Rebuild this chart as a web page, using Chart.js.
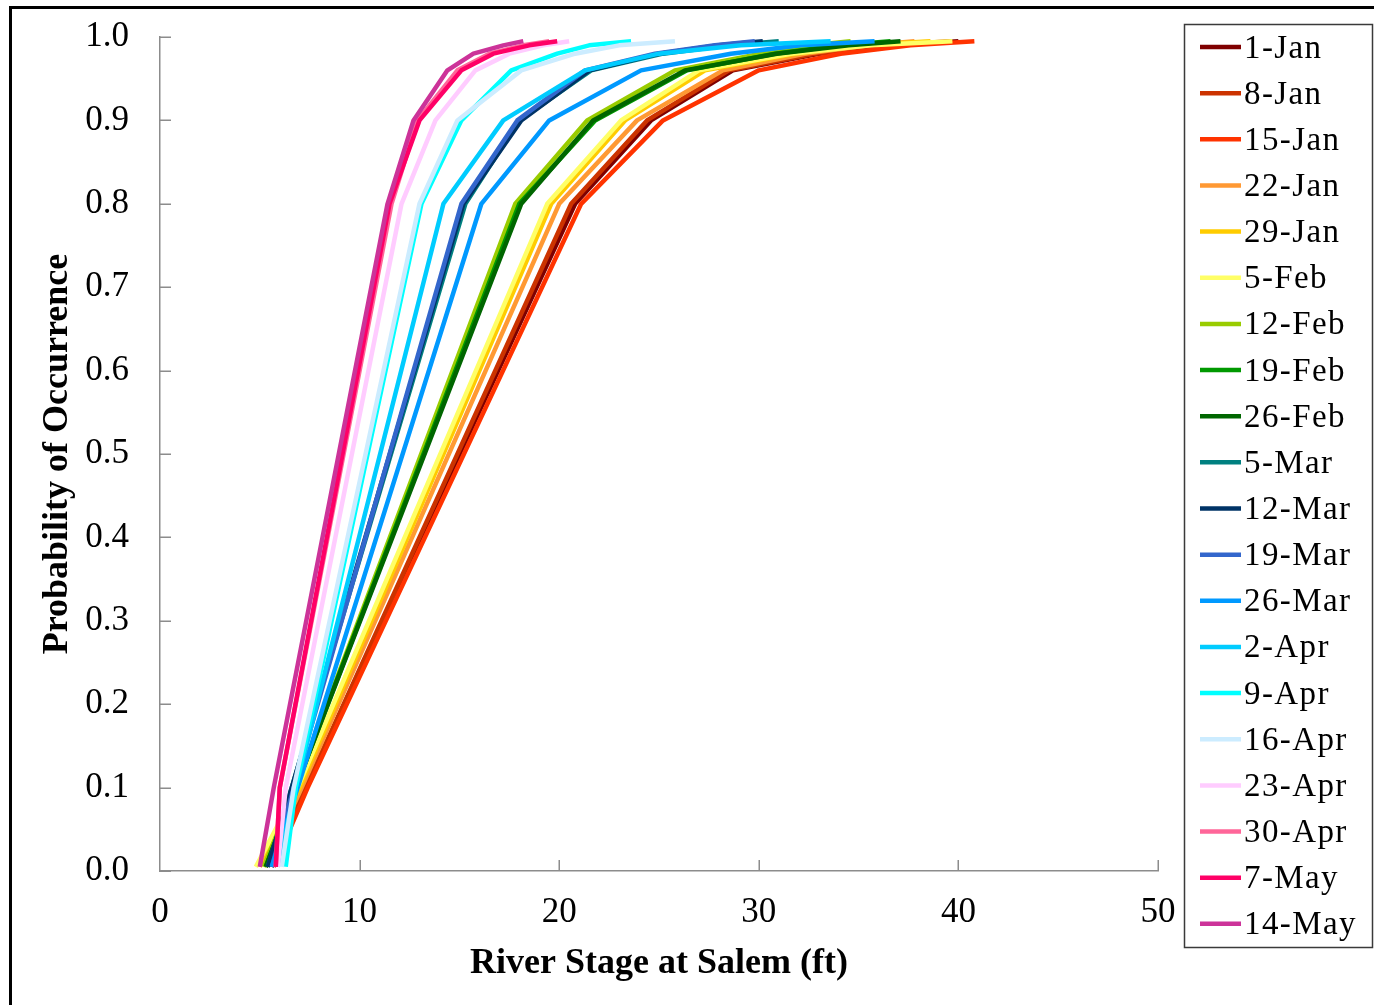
<!DOCTYPE html>
<html><head><meta charset="utf-8">
<script src="https://cdn.jsdelivr.net/npm/chart.js@4/dist/chart.umd.min.js"></script>
<style>
html,body{margin:0;padding:0;background:#fff;overflow:hidden}
#wrap{position:relative;width:1374px;height:1005px;overflow:hidden}
#frame{position:absolute;left:9px;top:6px;width:1400px;height:1100px;border-left:3px solid #000;border-top:3px solid #000;pointer-events:none}
canvas{position:absolute;left:0;top:0}
</style></head><body>
<div id="wrap"><canvas id="c" width="1374" height="1005"></canvas><div id="frame"></div></div>
<script>
// probability levels (y) shared by every series
const probLevels = [0.005, 0.1, 0.8, 0.9, 0.96, 0.98, 0.99, 0.995];
// river stage (ft) at each probability level
const jan01 = [5.6, 7.3, 20.8, 24.6, 28.7, 33.0, 36.8, 40.0];
const jan08 = [5.6, 7.3, 20.6, 24.4, 28.5, 32.8, 36.5, 39.6];
const jan15 = [5.7, 7.4, 21.1, 25.2, 30.0, 34.1, 37.6, 40.8];
const jan22 = [5.3, 7.1, 20.0, 23.9, 28.2, 32.3, 35.5, 37.8];
const jan29 = [5.0, 7.0, 19.6, 23.3, 27.3, 31.8, 35.2, 38.6];
const feb05 = [4.8, 6.9, 19.4, 23.1, 27.0, 31.6, 35.6, 39.7];
const feb12 = [5.2, 6.8, 17.8, 21.4, 25.8, 30.1, 32.6, 34.6];
const feb19 = [5.3, 6.8, 18.0, 21.8, 26.4, 30.8, 34.1, 36.6];
const feb26 = [5.3, 6.8, 18.1, 21.7, 26.3, 30.9, 34.5, 37.1];
const mar05 = [5.4, 6.6, 15.3, 18.0, 21.6, 25.2, 28.5, 31.0];
const mar12 = [5.4, 6.6, 15.2, 18.1, 21.5, 25.0, 28.0, 30.2];
const mar19 = [5.6, 6.7, 15.1, 17.9, 21.3, 24.8, 27.8, 29.8];
const mar26 = [5.6, 6.9, 16.1, 19.5, 24.1, 28.6, 32.1, 35.8];
const apr02 = [5.9, 6.8, 14.2, 17.2, 21.3, 25.0, 29.1, 33.6];
const apr09 = [6.3, 6.8, 13.1, 15.1, 17.6, 19.9, 21.5, 23.6];
const apr16 = [6.1, 6.7, 13.0, 14.9, 18.1, 20.8, 23.0, 25.8];
const apr23 = [5.9, 6.3, 12.1, 13.8, 15.8, 17.5, 19.2, 20.5];
const apr30 = [5.8, 6.0, 11.6, 12.9, 14.9, 16.5, 18.2, 19.5];
const may07 = [5.8, 6.0, 11.5, 13.0, 15.1, 16.7, 18.5, 19.9];
const may14 = [5.0, 5.7, 11.4, 12.7, 14.4, 15.7, 17.2, 18.2];

const seriesNames = ['1-Jan','8-Jan','15-Jan','22-Jan','29-Jan','5-Feb','12-Feb','19-Feb','26-Feb','5-Mar','12-Mar','19-Mar','26-Mar','2-Apr','9-Apr','16-Apr','23-Apr','30-Apr','7-May','14-May'];
const seriesValues = [jan01,jan08,jan15,jan22,jan29,feb05,feb12,feb19,feb26,mar05,mar12,mar19,mar26,apr02,apr09,apr16,apr23,apr30,may07,may14];
const seriesColors = ['#7f0000','#cc3300','#ff3300','#ff9933','#ffcc00','#ffff66','#99cc00','#009900','#006600','#008080','#003366','#3366cc','#0099ff','#00ccff','#00ffff','#ccecff','#ffccff','#ff6699','#ff0066','#cc3399'];
const xTicks = [0, 10, 20, 30, 40, 50];
const yTicks = [0, 0.1, 0.2, 0.3, 0.4, 0.5, 0.6, 0.7, 0.8, 0.9, 1.0];

const FONT = '"Liberation Serif", "Times New Roman", serif';
const AXIS_COLOR = '#8c8c8c';

const datasets = seriesNames.map((name, i) => ({
  label: name,
  data: seriesValues[i].map((x, k) => ({x: x, y: probLevels[k]})),
  borderColor: seriesColors[i],
  backgroundColor: seriesColors[i],
  borderWidth: 4.5,
  pointRadius: 0,
  pointHoverRadius: 0,
  showLine: true,
  tension: 0,
  borderJoinStyle: 'round',
  borderCapStyle: 'butt',
  order: seriesNames.length - i
}));

const innerTicks = {
  id: 'innerTicks',
  beforeDatasetsDraw(chart) {
    const {ctx, chartArea, scales} = chart;
    ctx.save();
    ctx.strokeStyle = AXIS_COLOR;
    ctx.lineWidth = 1.5;
    ctx.beginPath();
    yTicks.forEach(v => {
      const y = Math.round(scales.y.getPixelForValue(v)) + 0.25;
      ctx.moveTo(chartArea.left, y); ctx.lineTo(chartArea.left + 11, y);
    });
    xTicks.forEach(v => {
      if (v === 0) return;
      const x = Math.round(scales.x.getPixelForValue(v)) + 0.25;
      ctx.moveTo(x, chartArea.bottom); ctx.lineTo(x, chartArea.bottom - 11);
    });
    ctx.stroke();
    ctx.restore();
  }
};

const boxLegend = {
  id: 'boxLegend',
  afterDraw(chart) {
    const {ctx, chartArea} = chart;
    const left = chartArea.right + 26;
    const top = 24;
    const width = 188, height = 923;
    const rowH = 46.15;
    ctx.save();
    ctx.strokeStyle = '#3a3a3a';
    ctx.lineWidth = 1.5;
    ctx.strokeRect(left + 0.5, top + 0.5, width, height);
    ctx.font = '33px ' + FONT;
    if ('letterSpacing' in ctx) ctx.letterSpacing = '1.4px';
    ctx.textBaseline = 'alphabetic';
    ctx.textAlign = 'left';
    chart.data.datasets.forEach((ds, i) => {
      const cy = top + 23 + i * rowH;
      ctx.strokeStyle = ds.borderColor;
      ctx.lineWidth = 4.5;
      ctx.beginPath();
      ctx.moveTo(left + 16, cy); ctx.lineTo(left + 57, cy);
      ctx.stroke();
      ctx.fillStyle = '#000';
      ctx.fillText(ds.label, left + 60, cy + 10.5);
    });
    ctx.restore();
  }
};

new Chart(document.getElementById('c'), {
  type: 'scatter',
  data: { datasets },
  plugins: [innerTicks, boxLegend],
  options: {
    responsive: false,
    animation: false,
    events: [],
    layout: { padding: { left: 12, right: 216, top: 37, bottom: 0 } },
    plugins: { legend: { display: false }, tooltip: { enabled: false } },
    scales: {
      x: {
        type: 'linear', min: 0, max: 50,
        afterBuildTicks: (s) => { s.ticks = xTicks.map(v => ({value: v})); },
        afterFit: (s) => { s.height = 134; s.paddingLeft = 0; s.paddingRight = 0; },
        grid: { display: false, drawTicks: false },
        border: { display: true, color: AXIS_COLOR, width: 1.5 },
        ticks: { color: '#000', font: { family: FONT, size: 35 }, padding: 21, maxRotation: 0 },
        title: { display: true, text: 'River Stage at Salem (ft)', color: '#000',
                 font: { family: FONT, size: 36, weight: 'bold' }, padding: { top: 0, bottom: 20 } }
      },
      y: {
        type: 'linear', min: 0, max: 1,
        afterBuildTicks: (s) => { s.ticks = yTicks.map(v => ({value: v})); },
        afterFit: (s) => { s.width = 148; s.paddingTop = 0; s.paddingBottom = 0; },
        grid: { display: false, drawTicks: false },
        border: { display: true, color: AXIS_COLOR, width: 1.5 },
        ticks: { color: '#000', font: { family: FONT, size: 35 }, padding: 31,
                 callback: (v) => Number(v).toFixed(1) },
        title: { display: true, text: 'Probability of Occurrence', color: '#000',
                 font: { family: FONT, size: 36, weight: 'bold' }, padding: { top: 24, bottom: 0 } }
      }
    }
  }
});
</script>
</body></html>
